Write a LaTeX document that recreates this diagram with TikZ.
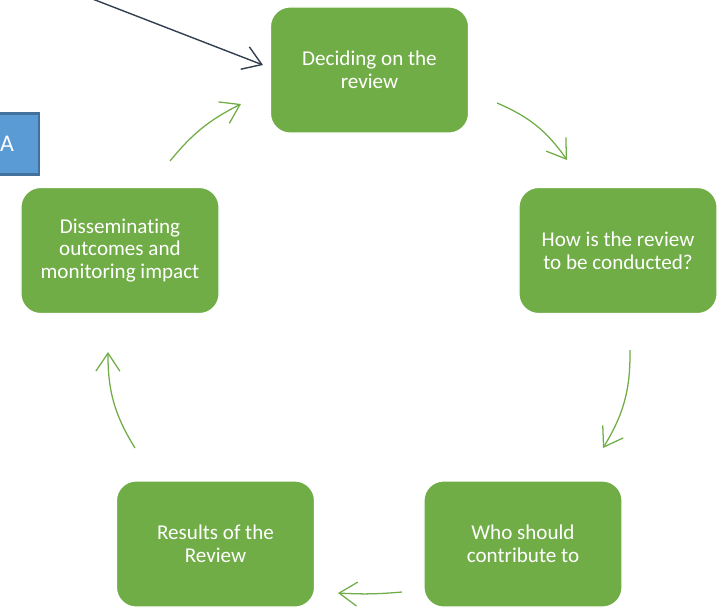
\documentclass[tikz,border=0pt]{standalone}
\usepackage{fontspec}
\setmainfont{Carlito}[Ligatures=NoCommon]
\usetikzlibrary{arrows.meta}

\definecolor{stepgreen}{HTML}{70AD47}
\definecolor{tagblue}{HTML}{5B9BD5}
\definecolor{tagedge}{HTML}{41719C}
\definecolor{inkline}{HTML}{333F50}

\tikzset{
	stagebox/.style={rectangle, rounded corners=14pt, fill=stepgreen, draw=white, line width=0.8pt,
		minimum width=4.95cm, minimum height=3.15cm, align=center, text=white, inner sep=0pt,
		font=\fontsize{15}{16.3}\selectfont},
	cyclearrow/.style={stepgreen, line width=0.9pt, -{Straight Barb[length=4.5mm,width=6mm]}},
}

\begin{document}
\begin{tikzpicture}[x=0.025cm, y=-0.025cm]
		%%%%% START %%%%%
		\useasboundingbox (0, 0) rectangle (720, 608);
		\clip (0, 0) rectangle (720, 608);
		
		% the five stages
		\node[stagebox] (decide) at (369.5, 70) {Deciding on the\\review};
		\node[stagebox] (conduct) at (618, 250.5) {How is the review\\to be conducted?};
		\node[stagebox] (contrib) at (523, 544) {Who should\\contribute to};
		\node[stagebox] (results) at (215.5, 544) {Results of the\\Review};
		\node[stagebox] (spread) at (120, 250.5) {Disseminating\\outcomes and\\monitoring impact};
		
		% free ends of the cycle arrows
		\coordinate (a1) at (497, 103);
		\coordinate (b1) at (567, 160);
		\coordinate (a2) at (630, 350);
		\coordinate (b2) at (603, 448);
		\coordinate (a3) at (402, 592);
		\coordinate (b3) at (338, 593);
		\coordinate (a4) at (135, 448);
		\coordinate (b4) at (108, 352);
		\coordinate (a5) at (170, 161);
		\coordinate (b5) at (241, 104);
		
		\draw[cyclearrow] (a1) to[bend left=16] (b1);
		\draw[cyclearrow] (a2) to[bend left=16] (b2);
		\draw[cyclearrow] (a3) to[bend left=4] (b3);
		\draw[cyclearrow] (a4) to[bend left=16] (b4);
		\draw[cyclearrow] (a5) to[bend left=12] (b5);
		
		% side tag
		\node[rectangle, fill=tagblue, draw=tagedge, line width=1.6pt, minimum width=1.6cm, minimum height=1.525cm,
			text=white, font=\fontsize{17}{19}\selectfont] (tag) at (7, 144) {A};
		
		% incoming pointer
		\coordinate (src) at (90, -2);
		\draw[inkline, line width=1pt, -{Straight Barb[length=4.5mm,width=6mm]}] (src) -- (263, 65);
		
		%%%%% END %%%%%
	\end{tikzpicture}
\end{document}
